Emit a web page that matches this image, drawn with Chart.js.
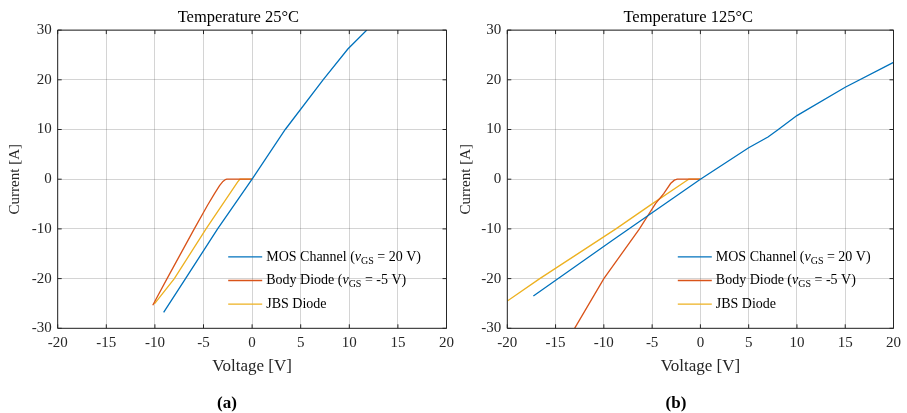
<!DOCTYPE html>
<html><head><meta charset="utf-8">
<script src="https://cdn.jsdelivr.net/npm/chart.js@4/dist/chart.umd.min.js"></script>
<style>
html,body{margin:0;padding:0;background:#fff;width:907px;height:413px;overflow:hidden;position:relative}
#c1{position:absolute;left:0;top:0;width:460px;height:413px}
#c2{position:absolute;left:450px;top:0;width:457px;height:413px}
.cap{position:absolute;top:393px;width:100px;text-align:center;font:bold 17px "Liberation Serif",serif;line-height:20px;color:#000}
</style></head><body>
<canvas id="c1" width="460" height="413"></canvas>
<canvas id="c2" width="457" height="413"></canvas>
<div class="cap" style="left:177px">(a)</div>
<div class="cap" style="left:626px">(b)</div>
<script>
// ---- data ----
const xTicks = [-20, -15, -10, -5, 0, 5, 10, 15, 20];
const yTicks = [-30, -20, -10, 0, 10, 20, 30];
const seriesNames = ['MOS Channel (vGS = 20 V)', 'Body Diode (vGS = -5 V)', 'JBS Diode'];
const titles = ['Temperature 25°C', 'Temperature 125°C'];

// 25 °C
const mos25V  = [-9.1, -6.85, -3.55, 0, 3.41, 7.3, 9.85, 11.8];
const mos25I  = [-26.8, -20, -10, 0, 10, 20, 26.2, 30];
const body25V = [-10.22, -8.75, -5.95, -4.6, -3.9, -3.35, -3.0, -2.75, -2.6, 0];
const body25I = [-25.35, -20, -10, -5.3, -3.0, -1.3, -0.45, -0.08, 0, 0];
const jbs25V  = [-10.05, -8.0, -4.74, -1.5, -1.25, 0];
const jbs25I  = [-25.1, -20, -10, -0.6, 0, 0];

// 125 °C
const mos125V  = [-17.3, -9.1, -5, 0, 5, 7.0, 8.0, 10, 15, 20];
const mos125I  = [-23.5, -12.3, -6.75, 0, 6.33, 8.5, 9.9, 12.8, 18.5, 23.5];
const body125V = [-13.03, -10, -6.35, -4.65, -3.78, -3.09, -2.7, -2.4, 0];
const body125I = [-30, -20, -10.1, -4.9, -2.87, -0.87, -0.2, 0, 0];
const jbs125V  = [-20, -16.64, -8.75, -5, -1.45, -1.2, 0];
const jbs125I  = [-24.5, -20, -10, -4.97, -0.3, 0, 0];

const colors = ['#0072BD', '#D95319', '#EDB120'];
const SERIF = '"Liberation Serif", "Times New Roman", serif';
const AXC = '#262626';

function pts(v, i) { return v.map((x, k) => ({x: x, y: i[k]})); }

function rich(ctx, x, y, parts) {
  for (const p of parts) {
    ctx.font = p.f;
    ctx.fillText(p.t, x, y + (p.dy || 0));
    x += ctx.measureText(p.t).width;
  }
}

const framePlugin = {
  id: 'frameTicks',
  afterDatasetsDraw(chart) {
    const {ctx, chartArea: a, scales: {x, y}} = chart;
    ctx.save();
    ctx.strokeStyle = AXC;
    ctx.lineWidth = 1;
    ctx.beginPath();
    ctx.rect(a.left, a.top, a.right - a.left, a.bottom - a.top);
    for (const v of xTicks) {
      const px = x.getPixelForValue(v);
      ctx.moveTo(px, a.bottom); ctx.lineTo(px, a.bottom - 4);
      ctx.moveTo(px, a.top); ctx.lineTo(px, a.top + 4);
    }
    for (const v of yTicks) {
      const py = y.getPixelForValue(v);
      ctx.moveTo(a.left, py); ctx.lineTo(a.left + 4, py);
      ctx.moveTo(a.right, py); ctx.lineTo(a.right - 4, py);
    }
    ctx.stroke();

    // legend (inside the axes, lower right)
    const n = '14px ' + SERIF, it = 'italic 14px ' + SERIF, sm = '10px ' + SERIF;
    const rowParts = [
      [{t: 'MOS Channel (', f: n}, {t: 'v', f: it}, {t: 'GS', f: sm, dy: 4}, {t: ' = 20 V)', f: n}],
      [{t: 'Body Diode (', f: n}, {t: 'v', f: it}, {t: 'GS', f: sm, dy: 4}, {t: ' = -5 V)', f: n}],
      [{t: 'JBS Diode', f: n}]
    ];
    const lx = a.left + 170.5, ly0 = a.top + 226.8, dy = 23.6;
    ctx.textBaseline = 'middle';
    ctx.textAlign = 'left';
    ctx.fillStyle = '#000';
    chart.data.datasets.forEach((ds, k) => {
      const yy = ly0 + k * dy;
      ctx.strokeStyle = ds.borderColor;
      ctx.lineWidth = 1.3;
      ctx.beginPath(); ctx.moveTo(lx, yy); ctx.lineTo(lx + 34, yy); ctx.stroke();
      rich(ctx, lx + 38, yy, rowParts[k]);
    });
    ctx.restore();
  }
};

function makeChart(id, title, sets, padL, padR, yW, yTitlePad) {
  return new Chart(document.getElementById(id), {
    type: 'scatter',
    data: {
      datasets: sets.map((s, k) => ({
        label: seriesNames[k],
        data: pts(s[0], s[1]),
        showLine: true,
        borderColor: colors[k],
        backgroundColor: colors[k],
        borderWidth: 1.3,
        pointRadius: 0,
        tension: 0
      }))
    },
    options: {
      responsive: false,
      animation: false,
      layout: {padding: {left: padL, right: padR, top: 0, bottom: 29.7}},
      plugins: {
        legend: {display: false},
        tooltip: {enabled: false},
        title: {
          display: true, text: title, color: '#000',
          font: {family: SERIF, size: 16.5, weight: 'normal'},
          padding: {top: 7.5, bottom: 2.8}
        }
      },
      scales: {
        x: {
          type: 'linear', min: -20, max: 20,
          afterBuildTicks: s => { s.ticks = xTicks.map(v => ({value: v})); },
          afterFit: s => { s.height = 55; },
          grid: {color: 'rgba(0,0,0,0.17)', drawTicks: false, lineWidth: 1},
          border: {display: false},
          ticks: {color: AXC, font: {family: SERIF, size: 15}, padding: 6, maxRotation: 0, autoSkip: false},
          title: {display: true, text: 'Voltage [V]', color: AXC, font: {family: SERIF, size: 17}, padding: {top: 0, bottom: 6.6}}
        },
        y: {
          type: 'linear', min: -30, max: 30,
          afterBuildTicks: s => { s.ticks = yTicks.map(v => ({value: v})); },
          afterFit: s => { s.width = yW; },
          grid: {color: 'rgba(0,0,0,0.17)', drawTicks: false, lineWidth: 1},
          border: {display: false},
          ticks: {color: AXC, font: {family: SERIF, size: 15}, padding: 6, autoSkip: false},
          title: {display: true, text: 'Current [A]', color: AXC, font: {family: SERIF, size: 15}, padding: yTitlePad}
        }
      }
    },
    plugins: [framePlugin]
  });
}

// left chart: chart area 57.7 .. 446.7 ; right chart (canvas at 450): 57.3 .. 446
makeChart('c1', titles[0], [[mos25V, mos25I], [body25V, body25I], [jbs25V, jbs25I]], 30, 13.3, 27.7, -23.5);
makeChart('c2', titles[1], [[mos125V, mos125I], [body125V, body125I], [jbs125V, jbs125I]], 30.5, 11, 26.8, -23.5);
</script>
</body></html>
